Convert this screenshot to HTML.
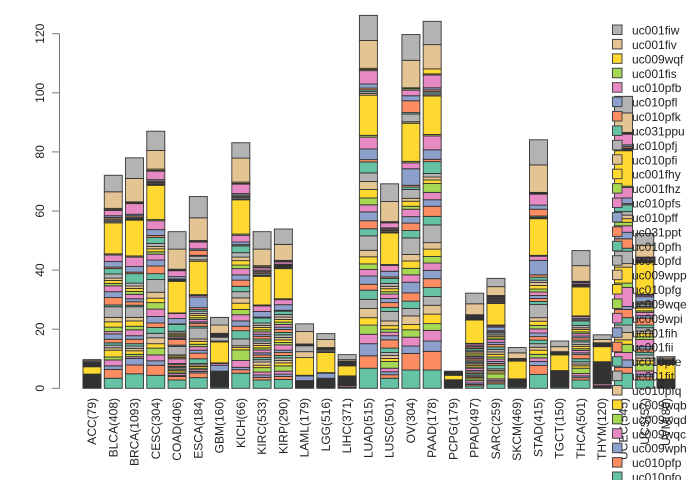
<!DOCTYPE html>
<html><head><meta charset="utf-8">
<style>
html,body{margin:0;padding:0;background:#fff;width:700px;height:480px;overflow:hidden;}
svg{display:block;font-family:"Liberation Sans",sans-serif;overflow:hidden;}
</style></head>
<body>
<svg id="chart" width="700" height="480" viewBox="0 0 700 480" xmlns="http://www.w3.org/2000/svg"></svg>
<script>
const categories = ["ACC(79)","BLCA(408)","BRCA(1093)","CESC(304)","COAD(406)","ESCA(184)","GBM(160)","KICH(66)","KIRC(533)","KIRP(290)","LAML(179)","LGG(516)","LIHC(371)","LUAD(515)","LUSC(501)","OV(304)","PAAD(178)","PCPG(179)","PPAD(497)","SARC(259)","SKCM(469)","STAD(415)","TGCT(150)","THCA(501)","THYM(120)","UCEC(545)","UCS(57)","UVM(80)"];
const seriesNames = ["uc001fiw","uc001fiv","uc009wqf","uc001fis","uc010pfb","uc010pfl","uc010pfk","uc031ppu","uc010pfj","uc010pfi","uc001fhy","uc001fhz","uc010pfs","uc010pff","uc031ppt","uc010pfh","uc010pfd","uc009wpp","uc010pfg","uc009wqe","uc009wpi","uc001fih","uc001fii","uc010pfe","uc001fit","uc010pfq","uc009wqb","uc009wqd","uc009wqc","uc009wph","uc010pfp","uc010pfo","uc010pfn","uc010pfm","uc010pfr","uc010pfc","uc010pfa","uc009wqa","uc009wpz","uc009wpy"];
const yTicks = [0,20,40,60,80,100,120];
// values per category, series order top-of-stack first
const vACC  = [.4,.4,.2,.2,.2,.2,.2,.2,.2,.2, 2.5,.2,.2,.2,.2,.2,.2,.2,.2,.2, .2,.1,.2,.1,.2,.1,.2,.1,.2,.1, .2,.1,.2,.1,.2,.1,.2,.1,.2,.1];
const vBLCA = [5.6,5.6,.4,.3,1.8,.6,.5,.4,.5,.4, 10.5,.4,2.2,1.9,.5,1.8,1.4,.8,1,.8, 2,2,2.5,.6,3.6,1.5,1.8,1.5,.8,1.8, 1.2,.8,.9,.8,2.3,1,2,1.2,3,3.4];
const vBRCA = [7,7.9,.3,.3,3.6,.5,.5,.4,.3,.3, 12.1,.4,3.2,1.9,.5,3.2,1,.8,1,1, 1.5,1,1.2,.5,3.6,1.2,1.8,1.2,2,1.2, 1.5,.8,.8,.8,1.2,.8,.6,2.2,3,4.9];
const vCESC = [6.5,6.3,.4,.3,2.9,.5,.4,.3,.4,.3, 11.6,.4,3,2,.6,2.1,1,.8,1,.8, 2,2,2.6,2,4.3,2,1.5,2.2,2.5,2.2, 1.5,2,1.5,2,1.5,2.3,2,1.5,3.4,4.4];
const vCOAD = [5.9,6.8,.3,.2,2,.8,.2,.2,.2,.2, 10.7,.2,1.7,1.8,.2,2.3,.6,.4,.5,.4, .5,.4,1.9,.4,2.9,.4,.5,.4,1.6,.4, .6,.4,.5,.4,.6,.5,.6,.4,1.2,2.8];
const vESCA = [7.2,7.7,.3,.2,2.3,.5,1.7,.3,1.2,.5, 11.3,.3,.5,3.6,.6,.6,.8,.6,.8,.6, .8,.5,1,.6,3.7,.8,1,.8,1.2,1, 1.9,1.6,.5,.5,.6,.5,.6,.5,1.6,3.6];
const vGBM  = [2.6,2.8,.2,.2,.3,.2,.2,.2,1.3,.3, 7.1,.2,.6,2,.2,.2,.2,.2,.2,.2, .2,.3,.2,.2,.3,.2,.2,.2,.2,.2, .2,.2,.3,.2,.2,.2,.2,.2,.3,.4];
const vKICH = [5.2,8.1,.4,.3,3.2,.5,.4,.4,.5,.3, 11.6,.4,2.3,.9,.4,2.3,1.5,1.2,1.5,1.2, 2.1,1.8,2.1,1.8,2.1,1.8,2.1,1.8,2.1,1.8, 1.5,2.8,2.3,.6,.8,3.6,2.3,.8,1.2,5.1];
const vKIRC = [5.9,5.6,.4,.3,.8,.4,.5,.4,.5,.3, 9.7,.3,1.9,1.9,.3,1.7,.8,.7,.8,.7, .8,.7,.9,.7,.8,.7,.8,.7,1,.7, .9,.7,.8,1.1,.8,1.5,1,.8,.9,2.8];
const vKIRP = [5.2,5.4,.3,.2,.8,.3,.3,.3,.3,.3, 10.2,.3,1.7,1.9,.3,1.1,.9,.8,.9,.8, .9,.8,1,.8,.9,.8,.9,.8,1.8,.8, 1,.8,.9,.8,1,1.8,1,.8,1,3];
const vLAML = [2.6,4.2,.1,.1,.1,.1,.1,.1,2,2, 6,.1,.1,1.6,.1,.1,.1,.1,.1,.1, .1,.1,.1,.1,.1,.1,.1,.1,.1,.1, .1,.1,.1,.1,.1,.1,.1,.1,.1,.1];
const vLGG  = [2,2.7,.2,.1,.2,.1,.2,.1,.5,.3, 6.8,.1,.1,1.7,.2,.1,.2,.2,.2,.2, .1,.1,.1,.1,.2,.1,.1,.1,.1,.1, .1,.1,.1,.1,.1,.1,.1,.1,.1,.3];
const vLIHC = [1.7,.5,.2,.2,.2,.2,.2,.2,.2,.2, 3.4,.2,.2,.2,.2,.2,.2,.2,.2,.2, .1,.1,.1,.1,.1,.1,.1,.1,.1,.1, .1,.1,.1,.1,.1,.1,.5,.1,.1,.1];
const vLUAD = [8.5,9.4,.4,.4,4.5,1.4,.6,.6,.6,.6, 13.6,.6,4,3.6,.8,3.7,2.9,2.7,2.9,2.3, 2.4,3,2.7,2.4,4.9,2.2,2.4,1.9,2.2,2.8, 2,3.1,3.1,3.1,2.5,3.1,3.2,4.1,4.2,6.8];
const vLUSC = [6,6.8,.2,.2,1.7,.4,.4,.3,.4,.2, 10.7,.3,2,1.9,.5,1.7,1,.8,1,.8, 1.5,1.4,1.6,1.4,3.2,1.6,1.2,1,1.2,1.4, 2.8,1.5,1,1,1,2.3,1.2,1,1.2,3.4];
const vOV   = [8.7,9.3,.3,.5,1.9,1.7,4,.5,2.6,.5, 12.9,.5,2,5.6,.6,.8,3,1,1.7,1, 2.5,2.2,2.5,2.5,5.6,2.2,2.5,2.2,2.5,3.6, 2.8,2.5,2.5,2.9,1.8,2.5,3,2.5,5.6,6.2];
const vPAAD = [7.9,8.2,1.7,.4,4.3,.7,.6,.5,.6,.4, 13,.5,4.7,3.2,.8,4,1.2,1,1.2,3, 2.5,2.2,3.4,2.9,6,2.2,2.5,2.2,2.5,2.8, 3,3,3,3,3.2,2.3,3.6,3.5,6.3,6.2];
const vPCPG = [.3,.2,.2,.1,.1,.1,.1,.1,.1,.1, 1.5,.1,.1,.1,.1,.1,.1,.1,.1,.1, .1,.1,.1,.1,.1,.1,.1,.1,.1,.1, .1,.1,.1,.1,.1,.1,.1,.1,.1,.1];
const vPPAD = [3.6,3.7,.2,.2,.3,.2,.2,.2,.3,.2, 7.9,.2,.6,.4,.5,.6,.5,.5,.6,.5, .5,.4,.6,.5,.5,.5,.6,.4,.8,.5, .5,.5,.4,.4,.5,.6,.8,.5,.5,.8];
const vSARC = [2.8,3,.3,.3,.4,.3,.4,.3,.4,.3, 7.3,.3,.4,1.2,.4,.4,.6,.5,.6,.5, .9,.8,.8,.8,.9,.8,.9,.7,.8,.7, .6,1.2,.6,.5,.6,1.7,.6,.5,.6,1.5];
const vSKCM = [1.8,1.9,.2,.1,.1,.1,.1,.1,.1,.1, 6,.1,.1,.1,.1,.1,.1,.1,.1,.1, .1,.1,.1,.1,.1,.1,.1,.1,.1,.1, .1,.1,.1,.1,.1,.1,.1,.1,.1,.4];
const vSTAD = [8.5,9.3,.3,.3,3.7,1.4,2.3,.4,.3,.2, 12.4,.3,1.4,4.9,.8,1,.8,1,1.2,1, 1.2,1,1,1,4.5,1.2,1.4,1.2,1.4,1.2, 1.2,1.2,1.2,1,1.4,1.2,1.2,1.4,3,4.7];
const vTGCT = [1.9,1.7,.2,.1,.2,.1,.1,.1,.2,.1, 5.3,.2,.2,.2,.2,.2,.2,.2,.2,.2, .2,.2,.2,.2,.2,.2,.2,.2,.2,.2, .2,.2,.2,.2,.2,.2,.2,.2,.2,.4];
const vTHCA = [5.1,5.3,.2,.2,.5,.2,.2,.2,.2,.2, 9.8,.2,.6,.5,.4,1.5,.8,.6,.8,.6, .8,.6,.8,.6,.9,.6,.8,.6,.8,.6, 1.4,1,.8,.6,.8,1.8,.8,.6,.8,2.8];
const vTHYM = [1.6,1.1,.2,.1,.2,.1,.2,.1,.2,.2, 5.1,.3,.3,.3,.3,.3,.3,.3,.3,.3, .3,.3,.3,.3,.3,.3,.3,.3,.3,.3, .3,.3,.3,.3,.3,.3,.6,.3,.3,.3];
const vUCEC = [5.6,6.6,.3,.3,3.6,.6,.5,.3,.3,.3, 12,.4,3.6,1.9,.4,2.3,1.2,1.2,1.2,1.2, 2.2,2.2,3.2,1,4.2,1.2,5.4,1.5,6.4,1, 2.8,2.5,2.5,2.5,1.5,2.8,2.5,2.5,2,5.1];
const vUCS  = [4,4,.2,.2,.5,.2,.2,.2,.2,.2, 10.7,.3,.5,1.7,.5,.5,.6,.5,1,.5, 1.1,.9,2.3,.9,1.1,.9,1.1,.9,2.3,.9, 1.1,.9,1.1,.9,1.1,2.3,1.1,.9,1.1,2.8];
const vUVM  = [.5,.5,.2,.2,.2,.2,.2,.2,.2,.2, 5,.1,.1,.1,.1,.1,.1,.1,.1,.1, .1,.1,.1,.1,.1,.1,.1,.1,.1,.1, .1,.1,.1,.1,.1,.1,.1,.1,.1,.3];
const seriesValues = [vACC,vBLCA,vBRCA,vCESC,vCOAD,vESCA,vGBM,vKICH,vKIRC,vKIRP,vLAML,vLGG,vLIHC,vLUAD,vLUSC,vOV,vPAAD,vPCPG,vPPAD,vSARC,vSKCM,vSTAD,vTGCT,vTHCA,vTHYM,vUCEC,vUCS,vUVM];

const palette = ["#b3b3b3","#e5c494","#ffd92f","#a6d854","#e78ac3","#8da0cb","#fc8d62","#66c2a5"];
const NS = "http://www.w3.org/2000/svg";
const svg = document.getElementById('chart');
const y0 = 388.3, pxPerUnit = 2.955;
function yScale(v){ return y0 - v*pxPerUnit; }
function xScale(i){ return 83 + i*21.26; }
const barW = 18;

function mk(tag, attrs){
  const el = document.createElementNS(NS, tag);
  for (const k in attrs) el.setAttribute(k, attrs[k]);
  return el;
}

// bars
categories.forEach((cat, i) => {
  const g = mk('g', {});
  
  
  const vals = seriesValues[i];
  let cum = 0;
  for (let k = vals.length - 1; k >= 0; k--) {
    const v = vals[k];
    const yTop = yScale(cum + v), yBot = yScale(cum);
    const r = mk('rect', {x: xScale(i), y: yTop, width: barW, height: Math.max(yBot - yTop, 0.01), fill: palette[k % 8], stroke: '#333', 'stroke-width': 0.9});
    
    
    g.appendChild(r);
    cum += v;
  }
  svg.appendChild(g);
  const tx = xScale(i) + barW/2 + 4;
  const t = mk('text', {x: 0, y: 0, transform: 'translate(' + tx + ',398) rotate(-90)', 'text-anchor': 'end', 'font-size': '12', fill: '#222'});
  t.textContent = cat;
  
  
  svg.appendChild(t);
});

// y axis
const axis = mk('g', {});


axis.appendChild(mk('line', {x1: 59.5, x2: 59.5, y1: yScale(yTicks[0]), y2: yScale(yTicks[yTicks.length-1]), stroke: '#777', 'stroke-width': 1}));
yTicks.forEach(v => {
  axis.appendChild(mk('line', {x1: 52, x2: 59.5, y1: yScale(v), y2: yScale(v), stroke: '#777', 'stroke-width': 1}));
  const t = mk('text', {x: 0, y: 0, transform: 'translate(44,' + yScale(v) + ') rotate(-90)', 'text-anchor': 'middle', 'font-size': '12', fill: '#222'});
  t.textContent = v;
  
  
  axis.appendChild(t);
});
svg.appendChild(axis);

// legend
const leg = mk('g', {});


seriesNames.forEach((name, k) => {
  const cy = 30 + k*14.42;
  if (cy > 480) return;
  const e = mk('g', {});
  
  
  e.appendChild(mk('rect', {x: 612.5, y: cy - 5, width: 9.5, height: 9.5, fill: palette[k % 8], stroke: '#444', 'stroke-width': 1}));
  const t = mk('text', {x: 632, y: cy + 4.5, 'font-size': '12', fill: '#222'});
  t.textContent = name;
  e.appendChild(t);
  leg.appendChild(e);
});
svg.appendChild(leg);
</script>
</body></html>
